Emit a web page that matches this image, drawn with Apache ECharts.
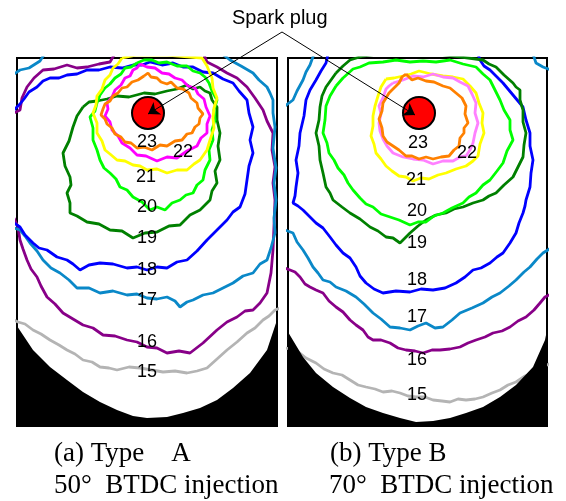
<!DOCTYPE html>
<html><head><meta charset="utf-8">
<script src="https://cdn.jsdelivr.net/npm/echarts@6/dist/echarts.min.js"></script>
<style>html,body{margin:0;padding:0;background:#fff}#c{width:566px;height:501px}</style>
</head><body><div id="c"></div>
<script>
// Panel geometry in local image units (x right, y down from panel top-left)
const boreA = [[0,268],[16,292],[33,309],[50,322],[66,334],[83,344],[100,352],[116,358],[130,360],[150,359],[166,355],[183,350],[200,342],[216,330],[233,315],[250,292],[260,262],[260,368],[0,368]];
const boreB = [[0,274],[15,299],[28,315],[45,329],[62,340],[78,349],[95,355],[112,360],[128,364],[145,363],[162,360],[178,355],[195,349],[212,339],[228,327],[245,309],[257,282],[259,272],[259,368],[0,368]];

const sparkA = [[131,55]];
const sparkB = [[131,55]];
const arrowA = [[265,-26],[131,56]];
const arrowB = [[-6,-26],[127,57]];

// Flame-front contours, panel A (Type A, 50 BTDC)
const a23 = [[127,18],[131,15],[134,19],[140,20],[144,24],[150,26],[154,24],[160,30],[166,31],[172,35],[174,40],[180,45],[181,50],[186,56],[183,60],[182,66],[178,69],[175,75],[170,76],[165,82],[158,83],[150,88],[143,87],[135,92],[127,89],[120,90],[114,85],[108,84],[104,79],[98,76],[95,70],[90,66],[88,61],[84,57],[86,51],[88,46],[93,43],[96,38],[101,35],[105,30],[110,29],[115,24],[121,22],[127,18]];
const a22 = [[123,6],[130,9],[138,10],[145,15],[152,16],[158,20],[165,22],[171,28],[178,30],[181,36],[187,41],[189,49],[193,58],[190,66],[190,75],[184,80],[180,88],[170,93],[160,100],[150,99],[140,103],[129,98],[120,97],[113,90],[105,85],[101,78],[95,72],[93,64],[88,58],[91,51],[90,45],[95,39],[98,32],[104,27],[108,20],[113,18],[116,12],[120,10],[123,6]];
const a21 = [[105,0],[120,-3],[150,-3],[185,0],[190,8],[195,20],[196,30],[200,40],[197,50],[196,60],[197,70],[193,82],[190,92],[183,102],[177,106],[170,112],[160,112],[150,115],[140,111],[130,112],[123,108],[116,107],[108,103],[100,102],[93,96],[88,92],[85,83],[80,75],[80,65],[76,55],[79,47],[80,38],[85,31],[88,22],[93,17],[96,10],[101,6],[105,0]];
const a20 = [[120,5],[127,2],[135,2],[142,5],[150,4],[160,8],[170,8],[176,13],[183,15],[188,19],[192,25],[195,33],[200,42],[197,52],[198,62],[195,72],[196,82],[192,92],[193,102],[188,112],[186,122],[180,127],[176,135],[169,137],[163,142],[155,145],[148,152],[140,149],[133,152],[125,144],[116,139],[110,132],[103,129],[99,121],[93,115],[87,110],[83,102],[80,92],[76,82],[76,70],[73,59],[78,53],[80,45],[83,37],[88,30],[93,26],[98,20],[104,16],[108,10],[114,9],[120,5]];
const a19 = [[66,49],[72,44],[80,43],[90,41],[100,38],[112,39],[127,35],[138,36],[150,33],[160,31],[170,27],[176,31],[183,29],[188,33],[193,35],[195,42],[200,49],[200,62],[203,75],[201,88],[203,102],[198,113],[200,125],[195,133],[193,142],[189,146],[183,152],[173,157],[163,167],[152,168],[140,174],[128,175],[116,180],[105,173],[93,172],[82,166],[70,164],[60,158],[53,155],[53,145],[50,135],[54,127],[53,119],[48,108],[46,95],[52,83],[56,69],[60,58],[66,49]];
const a18 = [[-3,52],[3,46],[7,41],[12,34],[20,29],[26,23],[33,20],[42,20],[50,17],[60,16],[70,12],[82,12],[93,9],[105,10],[116,7],[125,7],[133,4],[145,7],[156,5],[166,9],[176,9],[186,14],[196,15],[206,21],[216,25],[222,33],[230,42],[232,55],[236,69],[233,82],[236,95],[232,108],[230,122],[228,136],[223,149],[216,154],[210,162],[200,172],[190,182],[180,193],[170,202],[160,204],[150,210],[140,209],[130,212],[120,209],[110,210],[96,206],[83,205],[72,207],[63,212],[56,206],[50,202],[40,199],[30,192],[22,190],[16,185],[8,177],[3,169],[-3,165]];
const a17 = [[-3,16],[3,12],[12,10],[23,3],[30,-8],[200,-8],[213,2],[224,8],[236,15],[242,22],[250,29],[253,35],[256,42],[256,55],[258,69],[256,90],[259,110],[257,125],[259,142],[257,160],[258,175],[254,190],[250,202],[243,206],[236,215],[226,218],[216,225],[206,230],[196,235],[186,237],[176,242],[170,244],[163,249],[158,243],[150,239],[140,241],[130,240],[120,236],[110,237],[96,233],[83,235],[72,230],[60,230],[52,222],[43,215],[34,210],[26,202],[20,193],[13,185],[8,178],[3,172],[-3,170]];
const a16 = [[-3,55],[3,52],[5,40],[10,29],[17,20],[26,12],[37,11],[50,7],[60,10],[70,9],[82,6],[93,4],[100,-8],[185,-8],[190,4],[200,9],[210,15],[220,20],[230,29],[238,40],[246,52],[250,63],[256,75],[255,92],[258,109],[256,125],[258,142],[257,168],[256,192],[254,215],[250,235],[243,245],[236,252],[228,253],[220,259],[210,264],[200,272],[186,285],[173,295],[162,293],[150,295],[140,290],[130,289],[120,284],[110,282],[98,278],[86,277],[76,270],[66,267],[56,261],[46,255],[38,246],[30,239],[24,228],[20,219],[14,211],[10,202],[6,191],[3,182],[1,169],[-3,160]];
const a15 = [[-3,262],[1,264],[8,266],[16,272],[24,276],[33,282],[42,287],[50,292],[58,296],[66,302],[75,304],[83,309],[92,310],[100,312],[112,309],[123,310],[135,312],[146,314],[158,313],[170,315],[180,313],[190,310],[200,301],[210,292],[220,284],[230,275],[238,270],[246,262],[252,258],[258,252],[263,250]];

// Panel B (Type B, 70 BTDC)
const b23 = [[118,16],[124,22],[130,20],[138,23],[146,24],[155,28],[162,30],[168,35],[174,40],[178,48],[177,56],[180,65],[176,70],[176,75],[172,80],[171,88],[166,92],[161,98],[153,99],[145,101],[138,99],[131,101],[124,98],[118,98],[111,92],[105,88],[99,84],[95,78],[94,70],[91,61],[94,53],[95,45],[98,40],[101,35],[106,30],[111,25],[114,19],[118,16]];
const b22 = [[105,25],[115,22],[125,18],[135,19],[145,16],[155,19],[165,20],[172,24],[180,28],[184,36],[188,45],[187,55],[190,65],[187,75],[185,85],[182,92],[178,98],[172,99],[165,103],[155,103],[145,106],[135,102],[125,101],[115,99],[105,95],[99,88],[95,81],[92,73],[91,65],[93,56],[91,48],[95,40],[98,31],[101,28],[105,25]];
const b21 = [[98,21],[106,20],[115,18],[123,16],[131,13],[143,16],[155,18],[165,19],[175,21],[182,28],[188,35],[191,45],[195,55],[194,65],[196,75],[192,86],[190,98],[185,103],[178,108],[168,111],[158,115],[150,117],[141,121],[133,120],[125,123],[118,119],[111,118],[104,113],[98,108],[93,101],[88,95],[86,86],[83,78],[85,68],[85,58],[87,48],[90,38],[93,29],[98,21]];
const b20 = [[48,28],[55,20],[65,11],[72,9],[81,5],[95,4],[108,2],[122,4],[135,3],[148,4],[162,2],[175,6],[188,9],[195,16],[202,22],[207,32],[212,42],[216,52],[222,62],[222,72],[225,82],[219,93],[215,105],[209,113],[202,122],[195,127],[188,135],[181,139],[175,145],[164,150],[155,155],[146,158],[138,164],[130,164],[122,167],[111,162],[102,159],[93,156],[85,149],[78,146],[72,140],[65,132],[60,125],[56,117],[50,110],[46,102],[41,95],[39,85],[35,75],[37,62],[38,48],[42,38],[48,28]];
const b19 = [[48,15],[55,8],[62,2],[75,-2],[90,-4],[150,-4],[195,2],[201,6],[208,9],[216,17],[225,25],[228,29],[232,32],[232,42],[235,52],[235,64],[238,75],[236,87],[235,99],[230,109],[225,119],[216,127],[208,135],[201,138],[195,142],[185,145],[175,149],[166,151],[158,155],[148,157],[138,162],[130,168],[122,175],[117,180],[112,185],[105,180],[98,179],[90,173],[82,169],[72,161],[62,155],[54,149],[45,142],[42,135],[38,129],[35,115],[32,102],[31,88],[28,75],[31,62],[32,49],[34,38],[38,29],[43,22],[48,15]];
const b18 = [[40,-4],[38,5],[33,13],[28,22],[22,32],[18,42],[16,58],[12,75],[11,88],[8,102],[10,115],[8,129],[7,138],[5,145],[10,148],[15,152],[22,159],[28,165],[35,170],[42,179],[48,187],[55,195],[62,200],[68,209],[72,218],[78,225],[86,231],[95,235],[108,233],[122,234],[133,231],[145,232],[157,230],[168,225],[177,219],[185,212],[193,210],[202,205],[209,199],[215,195],[222,185],[228,175],[231,165],[235,155],[237,148],[238,142],[242,129],[243,115],[245,102],[242,88],[242,75],[238,62],[235,49],[225,37],[215,25],[208,18],[202,12],[196,8],[192,2],[190,-4]];
const b17a = [[-3,48],[5,42],[9,33],[15,22],[18,14],[22,7],[26,-4]];
const b17b = [[245,-4],[248,5],[255,9],[263,12]];
const b17c = [[-3,172],[5,175],[9,184],[15,192],[20,200],[25,209],[30,215],[35,222],[42,224],[48,229],[58,233],[68,239],[76,246],[85,255],[93,261],[102,269],[112,270],[122,272],[130,268],[138,265],[147,270],[155,269],[164,262],[172,255],[184,250],[195,245],[204,239],[212,235],[221,228],[228,222],[236,214],[242,209],[249,201],[255,195],[263,190]];
const b16 = [[-3,210],[2,212],[7,214],[12,219],[17,226],[22,229],[28,232],[35,235],[41,243],[48,249],[55,254],[62,262],[68,267],[75,272],[80,279],[85,282],[93,282],[102,285],[110,290],[118,292],[127,293],[135,295],[144,292],[152,292],[162,291],[172,289],[180,285],[188,282],[197,279],[205,275],[214,273],[222,269],[230,263],[238,259],[246,252],[252,245],[257,239],[263,236]];
const b15 = [[-3,290],[8,292],[18,300],[28,305],[36,311],[45,315],[54,317],[62,322],[70,327],[78,329],[87,331],[95,334],[104,333],[112,335],[120,338],[128,339],[137,339],[145,342],[154,343],[162,344],[170,341],[178,342],[187,341],[195,339],[204,335],[212,332],[220,327],[228,324],[237,318],[245,315],[250,311],[255,309],[263,305]];

const labelsA = [[130,84,'23'],[166,94,'22'],[129,119,'21'],[130,149,'20'],[130,180,'19'],[130,212,'18'],[130,242,'17'],[130,284,'16'],[130,314,'15']];
const labelsB = [[130,85,'23'],[179,95,'22'],[128,122,'21'],[129,153,'20'],[129,185,'19'],[129,222,'18'],[129,259,'17'],[129,302,'16'],[129,337,'15']];

const COLORS = {'23':'#FF8000','22':'#FF00FF','22b':'#FF80FF','21':'#FFFF00','20':'#00FF00','19':'#008000','18':'#0000FF','17':'#0A88C8','16':'#880088','15':'#B4B4B4'};

const chart = echarts.init(document.getElementById('c'), null, {renderer:'canvas'});

function poly(pts, g){
  return {type:'custom', xAxisIndex:g, yAxisIndex:g, data:[0], silent:true, z:3,
    renderItem:(p, api)=>({type:'polygon', shape:{points: pts.map(q=>api.coord(q))}, style:{fill:'#000'}})};
}
function contour(pts, color, g){
  return {type:'line', xAxisIndex:g, yAxisIndex:g, data:pts, showSymbol:false, symbol:'none',
    lineStyle:{color:color, width:2.8, opacity:1}, clip:true, silent:true, z:2};
}
function labels(arr, g){
  return {type:'scatter', xAxisIndex:g, yAxisIndex:g, data:arr, symbolSize:1, z:5, silent:true,
    itemStyle:{color:'rgba(0,0,0,0)', opacity:1},
    label:{show:true, position:'inside', formatter:p=>p.value[2], color:'#000', opacity:1,
      fontFamily:'Liberation Sans, Arial', fontSize:18}};
}
function spark(pts, g){
  return {type:'scatter', xAxisIndex:g, yAxisIndex:g, data:pts, symbolSize:32, z:6, silent:true,
    itemStyle:{color:'#FF0000', borderColor:'#000', borderWidth:2, opacity:1}};
}
function arrow(pts, g){
  return {type:'lines', coordinateSystem:'cartesian2d', xAxisIndex:g, yAxisIndex:g, clip:false, z:7, silent:true,
    data:[{coords:pts}], symbol:['none','arrow'], symbolSize:11,
    lineStyle:{color:'#000', width:1, opacity:1}};
}

const axisHidden = {show:false};
const serif = '27px "Liberation Serif", "Times New Roman"';
const option = {
  animation:false,
  grid:[
    {left:17, top:58, width:260, height:368, show:true, borderColor:'#000', borderWidth:2, backgroundColor:'#fff'},
    {left:288, top:58, width:259, height:368, show:true, borderColor:'#000', borderWidth:2, backgroundColor:'#fff'}
  ],
  xAxis:[
    {type:'value', gridIndex:0, min:0, max:260, ...axisHidden},
    {type:'value', gridIndex:1, min:0, max:259, ...axisHidden}
  ],
  yAxis:[
    {type:'value', gridIndex:0, min:0, max:368, inverse:true, ...axisHidden},
    {type:'value', gridIndex:1, min:0, max:368, inverse:true, ...axisHidden}
  ],
  series:[
    poly(boreA,0), poly(boreB,1),
    contour(a15,COLORS['15'],0), contour(a16,COLORS['16'],0), contour(a17,COLORS['17'],0),
    contour(a18,COLORS['18'],0), contour(a19,COLORS['19'],0), contour(a20,COLORS['20'],0),
    contour(a21,COLORS['21'],0), contour(a22,COLORS['22'],0), contour(a23,COLORS['23'],0),
    contour(b15,COLORS['15'],1), contour(b16,COLORS['16'],1),
    contour(b17a,COLORS['17'],1), contour(b17b,COLORS['17'],1), contour(b17c,COLORS['17'],1),
    contour(b18,COLORS['18'],1), contour(b19,COLORS['19'],1), contour(b20,COLORS['20'],1),
    contour(b21,COLORS['21'],1), contour(b22,COLORS['22b'],1), contour(b23,COLORS['23'],1),
    labels(labelsA,0), labels(labelsB,1),
    spark(sparkA,0), spark(sparkB,1),
    arrow(arrowA,0), arrow(arrowB,1)
  ],
  graphic:[
    {type:'text', x:232, y:8, style:{text:'Spark plug', font:'20px "Liberation Sans", Arial', fill:'#000'}},
    {type:'text', x:54, y:440, style:{text:'(a) Type\u00a0\u00a0\u00a0\u00a0A', font:serif, fill:'#000'}},
    {type:'text', x:54, y:472, style:{text:'50°\u00a0 BTDC injection', font:serif, fill:'#000'}},
    {type:'text', x:330, y:440, style:{text:'(b) Type B', font:serif, fill:'#000'}},
    {type:'text', x:329, y:472, style:{text:'70°\u00a0 BTDC injection', font:serif, fill:'#000'}}
  ]
};
chart.setOption(option);
</script></body></html>
